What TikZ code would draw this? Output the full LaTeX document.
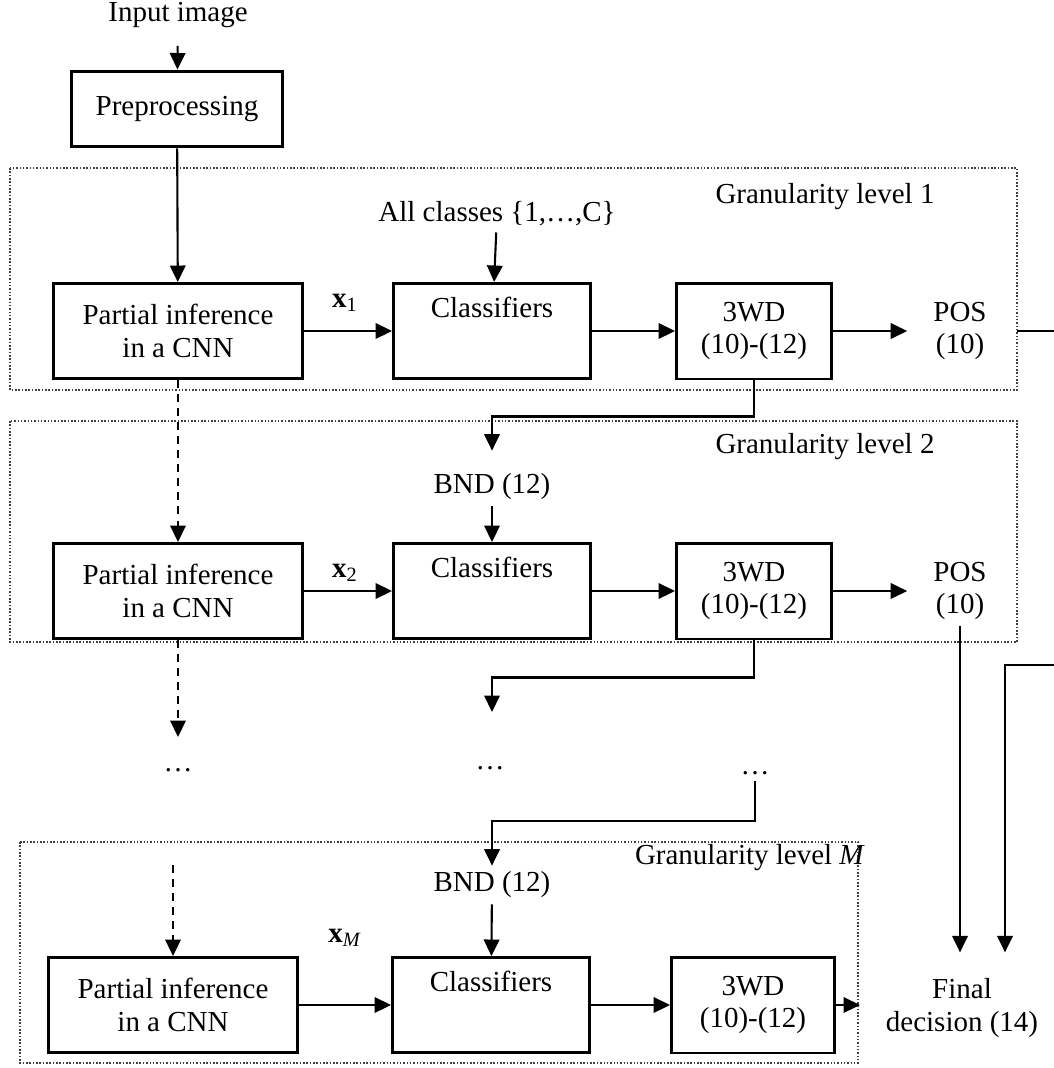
\documentclass[tikz,border=0pt]{standalone}
\usepackage{fontspec}
\setmainfont{Liberation Serif}
\usetikzlibrary{arrows.meta}

\begin{document}
\begin{tikzpicture}[x=0.02cm, y=-0.02cm,
		font=\fontsize{16.5}{18.5}\selectfont,
		box/.style={draw, line width=1.7pt, align=center, inner sep=0pt},
		pibox/.style={box, minimum width=4.98cm, minimum height=1.9cm},
		clsbox/.style={box, minimum width=3.94cm, text height=0.68cm, text depth=1.22cm},
		wdbox/.style={box, minimum width=3.1cm, minimum height=1.92cm},
		arr/.style={line width=1.2pt, -{Triangle[length=0.33cm,width=0.31cm]}},
		dashy/.style={dash pattern=on 4.5pt off 3.5pt},
		lvl/.style={densely dotted, line width=0.9pt, black!75}]
		%%%%% START %%%%%
		
		\useasboundingbox (0,0) rectangle (1054,1068);
		\clip (0,0) rectangle (1054,1068);
		
		\draw[lvl] (10,168) rectangle (1017,390);
		\draw[lvl] (10,421) rectangle (1017,642);
		\draw[lvl] (20,842) rectangle (858,1063);
		
		\node (inp) at (178,15) {Input image};
		\node[box, minimum width=4.24cm, minimum height=1.52cm] (pre) at (177,109) {Preprocessing};
		
		% level 1
		\node (lvA) at (825,197) {Granularity level 1};
		\node (all) at (497,214) {All classes \{1,…,C\}};
		\node[pibox] (piA) at (178,331) {Partial inference\\in a CNN};
		\node[clsbox] (clsA) at (492,331) {Classifiers};
		\node[wdbox] (wdA) at (754,331) {3WD\\(10)-(12)};
		\node[align=center] (posA) at (960,331) {POS\\(10)};
		\node (xA) at (345,303) {\textbf{x}\textsubscript{1}};
		\coordinate (eA) at (1017,331);
		
		\draw[arr, shorten <=0.24cm] (inp) -- (pre);
		\draw[arr] (pre) -- (piA);
		\draw[arr] (all) -- (clsA);
		\draw[arr] (piA) -- (clsA);
		\draw[arr] (clsA) -- (wdA);
		\draw[arr, shorten >=0.4cm] (wdA) -- (posA);
		
		% level 2
		\node (lvB) at (825,447) {Granularity level 2};
		\node (bndB) at (492,487) {BND (12)};
		\node[pibox] (piB) at (178,591) {Partial inference\\in a CNN};
		\node[clsbox] (clsB) at (492,591) {Classifiers};
		\node[wdbox] (wdB) at (754,591) {3WD\\(10)-(12)};
		\node[align=center] (posB) at (960,591) {POS\\(10)};
		\node (xB) at (345,573) {\textbf{x}\textsubscript{2}};
		
		\draw[arr, shorten >=0.34cm] (wdA.south) -- ++(0,36) -| (bndB.north);
		\draw[arr] (bndB) -- (clsB);
		\draw[arr, dashy] (piA) -- (piB);
		\draw[arr] (piB) -- (clsB);
		\draw[arr] (clsB) -- (wdB);
		\draw[arr, shorten >=0.4cm] (wdB) -- (posB);
		
		% between the levels
		\coordinate (dnB) at (492,712);
		\coordinate (dnA) at (178,737);
		\node (dotA) at (178,770) {…};
		\node (dotB) at (490,768) {…};
		\node (dotC) at (755,773) {…};
		
		\draw[arr] (wdB.south) -- ++(0,37) -| (dnB);
		\draw[arr, dashy] (piB) -- (dnA);
		
		% level M
		\node (lvM) at (750,858) {Granularity level \textit{M}};
		\node (bndM) at (492,885) {BND (12)};
		\coordinate (dM) at (173,865);
		\node[pibox] (piM) at (173,1005) {Partial inference\\in a CNN};
		\node[clsbox] (clsM) at (491,1005) {Classifiers};
		\node[wdbox, minimum width=3.26cm] (wdM) at (753,1005) {3WD\\(10)-(12)};
		\node (xM) at (345,938) {\textbf{x}\textsubscript{\textit{M}}};
		\coordinate (eM) at (860,1005);
		
		\draw[arr] (dotC.south) -- ++(0,40) -| (bndM.north);
		\draw[arr] (bndM) -- (clsM);
		\draw[arr, dashy] (dM) -- (piM);
		\draw[arr] (piM) -- (clsM);
		\draw[arr] (clsM) -- (wdM);
		\draw[arr] (wdM) -- (eM);
		
		% final decision
		\node[align=center] (fin) at (962,1008) {Final\\decision (14)};
		\draw[arr, shorten >=0.4cm] (posB.south) -- (posB.south |- fin.north);
		\draw[arr, shorten >=0.4cm] (eA) -- ++(58,0) -- ++(0,334) -| ([xshift=0.86cm]fin.north);
		
		%%%%% END %%%%%
	\end{tikzpicture}
\end{document}
